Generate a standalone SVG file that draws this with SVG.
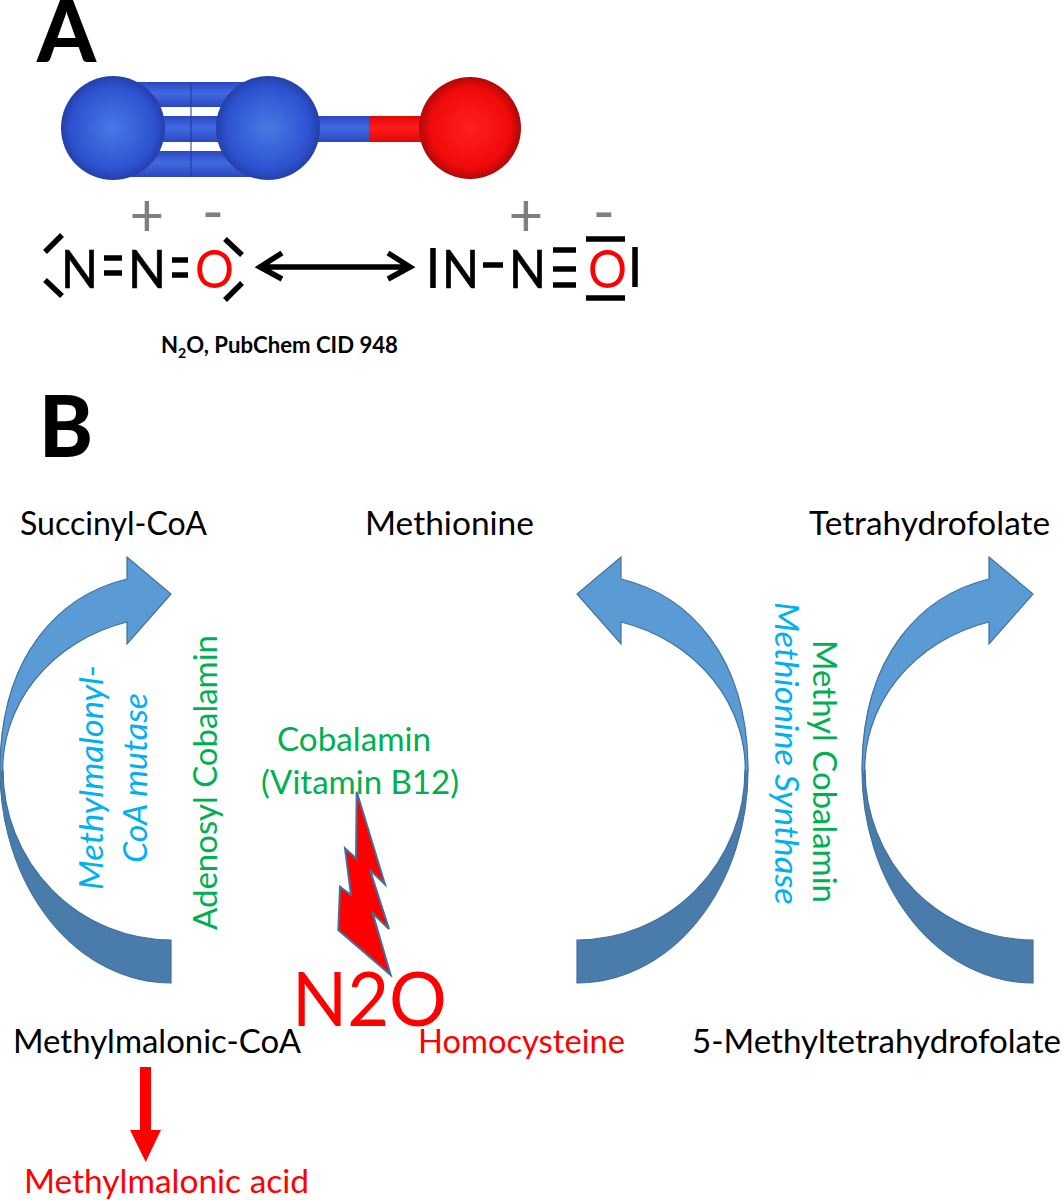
<svg xmlns="http://www.w3.org/2000/svg" xmlns:xlink="http://www.w3.org/1999/xlink" width="1062" height="1200" viewBox="0 0 1062 1200">
<style>
text{font-family:"Lato","Open Sans","Liberation Sans",sans-serif}
.lbl{font-size:33px;fill:#000}
.big{font-size:53px;fill:#000;stroke:#000;stroke-width:.7}
.red{fill:#f00;stroke:none}
.big.red{fill:#f00;stroke:none}
.grn{fill:#00b050}
.blu{fill:#00b0f0;font-style:italic}
.pan{font-weight:900;fill:#000}
.chg{font-size:60px;fill:#7f7f7f;text-anchor:middle}
.k{stroke:#000;stroke-width:5.5;fill:none}
.up{fill:#5b9bd5;stroke:#41719c;stroke-width:1.2}
.dn{fill:#4a7cab;stroke:#41719c;stroke-width:1.2}
</style>
<defs>
<radialGradient id="bs"><stop offset="0" stop-color="#4a78e6"/><stop offset=".8" stop-color="#2d52d0"/><stop offset="1" stop-color="#2440a8"/></radialGradient>
<radialGradient id="rs"><stop offset="0" stop-color="#ff2020"/><stop offset=".78" stop-color="#f00a0a"/><stop offset="1" stop-color="#b00808"/></radialGradient>
<linearGradient id="bb" x1="0" y1="0" x2="0" y2="1"><stop offset="0" stop-color="#2a48c0"/><stop offset=".45" stop-color="#4169e1"/><stop offset="1" stop-color="#2a48c0"/></linearGradient>
<linearGradient id="rb" x1="0" y1="0" x2="0" y2="1"><stop offset="0" stop-color="#e00808"/><stop offset=".45" stop-color="#ff1a1a"/><stop offset="1" stop-color="#e00808"/></linearGradient>
<g id="carrow">
<path class="dn" d="M171,940A168,170 0 0 1 3,770L0,770A171,213 0 0 0 171,983Z"/>
<path class="up" d="M127,579C60,595 0,655 0,770L3,778A169,153 0 0 1 127,622L127,644L171,594L127,557Z"/>
</g>
</defs>
<rect width="1062" height="1200" fill="#fff"/>
<g id="panel-a"><text class="pan" x="37" y="62" font-size="86" textLength="59" lengthAdjust="spacingAndGlyphs">A</text></g>
<g id="molecule">
<rect x="113" y="82" width="155" height="25" fill="url(#bb)"/>
<rect x="113" y="116" width="155" height="26" fill="url(#bb)"/>
<rect x="113" y="151" width="155" height="26" fill="url(#bb)"/>
<path d="M191,82V177" stroke="#1f3a96" stroke-width="1" fill="none"/>
<rect x="268" y="116" width="101" height="26" fill="url(#bb)"/>
<rect x="369" y="116" width="60" height="26" fill="url(#rb)"/>
<circle cx="113" cy="128" r="52" fill="url(#bs)"/>
<circle cx="268" cy="128" r="52" fill="url(#bs)"/>
<circle cx="470" cy="128" r="51" fill="url(#rs)"/>
</g>
<g id="structure-left">
<text class="chg" x="147" y="236">+</text>
<text class="chg" x="213" y="233">-</text>
<text class="big" x="61" y="288" textLength="37" lengthAdjust="spacingAndGlyphs">N</text>
<text class="big" x="128" y="288" textLength="38" lengthAdjust="spacingAndGlyphs">N</text>
<text class="big red" x="195" y="288" textLength="39" lengthAdjust="spacingAndGlyphs">O</text>
<path class="k" d="M45,252L62,235M45,280L62,296M225,239L242,255M225,300L242,283M104,258H122M104,273H122M172,260H188M172,275H188"/>
</g>
<g id="connectors">
<path class="k" d="M260,267H410M282,253L260,267L282,279M388,253L410,267L388,279"/>
<path d="M140,1067H151V1130H161L145.700,1162L130,1130H140Z" fill="#f00"/>
</g>
<g id="structure-right">
<text class="chg" x="526" y="236">+</text>
<text class="chg" x="604" y="233">-</text>
<text class="big" x="442" y="288" textLength="37" lengthAdjust="spacingAndGlyphs">N</text>
<text class="big" x="509" y="288" textLength="37" lengthAdjust="spacingAndGlyphs">N</text>
<text class="big red" x="588" y="288" textLength="39" lengthAdjust="spacingAndGlyphs">O</text>
<path class="k" d="M433,248V288M483,265H503M553,250H576M553,269H576M553,285H576M586,239H625M586,298H625M635,247V287"/>
</g>
<g id="caption"><text x="161" y="353" font-size="22" font-weight="700" fill="#000" textLength="237" lengthAdjust="spacingAndGlyphs">N<tspan font-size="14" dy="5">2</tspan><tspan dy="-5">O, PubChem CID 948</tspan></text></g>
<g id="panel-b"><text class="pan" x="39" y="457" font-size="85" textLength="54" lengthAdjust="spacingAndGlyphs">B</text></g>
<g id="arrow-left"><use xlink:href="#carrow" href="#carrow"/></g>
<g id="arrow-middle"><use xlink:href="#carrow" href="#carrow" transform="translate(748,0) scale(-1,1)"/></g>
<g id="arrow-right"><use xlink:href="#carrow" href="#carrow" transform="translate(862,0)"/></g>
<g id="succinyl"><text class="lbl" x="20" y="535" textLength="187" lengthAdjust="spacingAndGlyphs">Succinyl-CoA</text></g>
<g id="methionine"><text class="lbl" x="365" y="535" textLength="169" lengthAdjust="spacingAndGlyphs">Methionine</text></g>
<g id="thf"><text class="lbl" x="809" y="535" textLength="241" lengthAdjust="spacingAndGlyphs">Tetrahydrofolate</text></g>
<g id="mmcoa"><text class="lbl" x="13" y="1053" textLength="288" lengthAdjust="spacingAndGlyphs">Methylmalonic-CoA</text></g>
<g id="homocysteine"><text class="lbl red" x="418" y="1053" textLength="207" lengthAdjust="spacingAndGlyphs">Homocysteine</text></g>
<g id="mthf"><text class="lbl" x="692" y="1053" textLength="369" lengthAdjust="spacingAndGlyphs">5-Methyltetrahydrofolate</text></g>
<g id="mma"><text class="lbl red" x="24" y="1193" textLength="285" lengthAdjust="spacingAndGlyphs">Methylmalonic acid</text></g>
<g id="cobalamin">
<text class="lbl grn" x="277" y="751" textLength="154" lengthAdjust="spacingAndGlyphs">Cobalamin</text>
<text class="lbl grn" x="261" y="794" textLength="198" lengthAdjust="spacingAndGlyphs">(Vitamin B12)</text>
</g>
<g id="n2o-bolt">
<path d="M356.700,791.700L385,884.300L370,870L389,929L372.700,913.300L390.700,975L338.300,930L340,886.700L351,895L345,848.300L356,858.300Z" fill="#f00" stroke="#41719c" stroke-width="2"/>
<text x="292" y="1026" font-size="76" fill="#f00" textLength="155" lengthAdjust="spacingAndGlyphs">N2O</text>
</g>
<g id="enzyme-left">
<text class="lbl blu" transform="translate(103,890) rotate(-90)" textLength="225" lengthAdjust="spacingAndGlyphs">Methylmalonyl-</text>
<text class="lbl blu" transform="translate(147,863) rotate(-90)" textLength="170" lengthAdjust="spacingAndGlyphs">CoA mutase</text>
<text class="lbl grn" transform="translate(217,930) rotate(-90)" textLength="295" lengthAdjust="spacingAndGlyphs">Adenosyl Cobalamin</text>
</g>
<g id="enzyme-right">
<text class="lbl blu" transform="translate(775,602) rotate(90)" textLength="303" lengthAdjust="spacingAndGlyphs">Methionine Synthase</text>
<text class="lbl grn" transform="translate(813,640) rotate(90)" textLength="263" lengthAdjust="spacingAndGlyphs">Methyl Cobalamin</text>
</g>
</svg>
